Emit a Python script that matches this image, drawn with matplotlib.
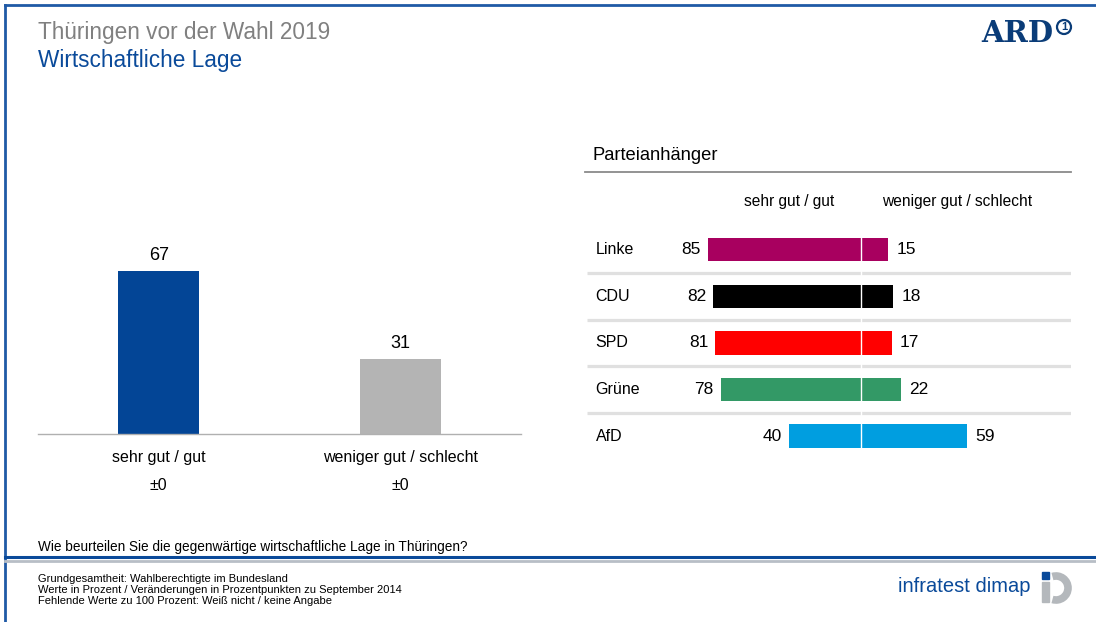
import matplotlib.pyplot as plt
from matplotlib.lines import Line2D
from matplotlib.patches import Ellipse, Arc, Rectangle

plt.rcParams['font.family'] = ['Liberation Sans', 'DejaVu Sans']

# data
total_cats = ['sehr gut / gut', 'weniger gut / schlecht']
total_vals = [67, 31]
total_change = ['±0', '±0']
total_colors = ['#034596', '#b4b4b4']

parties = ['Linke', 'CDU', 'SPD', 'Grüne', 'AfD']
good = [85, 82, 81, 78, 40]
bad = [15, 18, 17, 22, 59]
party_colors = ['#a8005f', '#000000', '#ff0000', '#339966', '#009ee0']

W, H = 1096, 622
fig = plt.figure(figsize=(W / 100, H / 100), dpi=100)


def px(x0, y0, x1, y1):
    # pixel box -> figure fraction rect
    return [x0 / W, 1 - y1 / H, (x1 - x0) / W, (y1 - y0) / H]


blue = '#1f5aa6'
# frame
fig.add_artist(Line2D([5 / W, 1], [1 - 5 / H, 1 - 5 / H], color=blue, lw=2))
fig.add_artist(Line2D([5 / W, 5 / W], [0, 1 - 5 / H], color=blue, lw=2))
fig.add_artist(Line2D([5 / W, 1], [1 - 557 / H, 1 - 557 / H], color='#0a4a9a', lw=2.2))
fig.add_artist(Line2D([5 / W, 1], [1 - 561 / H, 1 - 561 / H], color='#b8bec6', lw=2))

# titles
fig.text(38 / W, 1 - 32 / H, 'Thüringen vor der Wahl 2019', fontsize=16.3,
         color='#808080', va='center')
fig.text(38 / W, 1 - 60 / H, 'Wirtschaftliche Lage', fontsize=16.3,
         color='#0a4a9a', va='center')

# ARD logo
fig.text(1053 / W, 1 - 34 / H, 'ARD', fontsize=21, fontweight='bold',
         family='DejaVu Serif', color='#0a3c78', ha='right', va='center')
fig.add_artist(Ellipse((1064 / W, 1 - 27 / H), 14 / W, 14 / H, transform=fig.transFigure,
                       fill=False, ec='#0a3c78', lw=1.6))
fig.text(1064 / W, 1 - 27 / H, '1', fontsize=8, fontweight='bold',
         color='#0a3c78', ha='center', va='center')

# left chart
ax = fig.add_axes(px(38, 191, 521, 434))
ax.bar(range(len(total_vals)), total_vals, width=0.336, color=total_colors)
ax.set_xlim(-0.5, 1.5)
ax.set_ylim(0, 100)
for s in ['top', 'right', 'left']:
    ax.spines[s].set_visible(False)
ax.spines['bottom'].set_color('#b0b0b0')
ax.spines['bottom'].set_linewidth(1)
ax.set_xticks([])
ax.set_yticks([])
for i, v in enumerate(total_vals):
    ax.annotate(str(v), (i, v), xytext=(0, 5), textcoords='offset points',
                ha='center', va='bottom', fontsize=13)
    ax.text(i, -9.5, total_cats[i], ha='center', va='center', fontsize=11.5)
    ax.text(i, -21, total_change[i], ha='center', va='center', fontsize=11.5)

# right chart
ax2 = fig.add_axes(px(585, 172, 1071, 460))
y = range(len(parties))
ax2.barh(y, [-g for g in good], height=0.495, color=party_colors)
ax2.barh(y, bad, height=0.495, color=party_colors)
ax2.set_xlim(-276 / 1.8, 210 / 1.8)
ax2.set_ylim(4.516, -1.677)
for s in ['right', 'left', 'bottom']:
    ax2.spines[s].set_visible(False)
ax2.spines['top'].set_color('#8a8a8a')
ax2.spines['top'].set_linewidth(1.3)
ax2.set_xticks([])
ax2.set_yticks([])
for i in range(len(parties) - 1):
    ax2.plot([-152, 116.7], [i + 0.5, i + 0.5], color='#e0e0e0', lw=2.3,
             solid_capstyle='butt')
ax2.vlines(0, -0.5, len(parties) - 0.5, color='white', lw=1, zorder=5)
tr = ax2.get_yaxis_transform()
for i, p in enumerate(parties):
    ax2.text(0.022, i, p, transform=tr, ha='left', va='center', fontsize=11.5)
    ax2.annotate(str(good[i]), (-good[i], i), xytext=(-5, 0),
                 textcoords='offset points', ha='right', va='center', fontsize=12.5)
    ax2.annotate(str(bad[i]), (bad[i], i), xytext=(6, 0),
                 textcoords='offset points', ha='left', va='center', fontsize=12.5)
ax2.text(-40, -1.05, 'sehr gut / gut', ha='center', va='center', fontsize=11.2)
ax2.text(53.5, -1.05, 'weniger gut / schlecht', ha='center', va='center', fontsize=11.2)
fig.text(593 / W, 1 - 156 / H, 'Parteianhänger', fontsize=13.2, va='center')

# footer
fig.text(38 / W, 1 - 547 / H, 'Wie beurteilen Sie die gegenwärtige wirtschaftliche Lage in Thüringen?',
         fontsize=9.8, va='center')
notes = ['Grundgesamtheit: Wahlberechtigte im Bundesland',
         'Werte in Prozent / Veränderungen in Prozentpunkten zu September 2014',
         'Fehlende Werte zu 100 Prozent: Weiß nicht / keine Angabe']
for k, n in enumerate(notes):
    fig.text(38 / W, 1 - (579 + 11 * k) / H, n, fontsize=8, va='center')

fig.text(1030 / W, 1 - 586 / H, 'infratest dimap', fontsize=14.5,
         color='#0a4a9a', ha='right', va='center')
fig.add_artist(Arc((1056 / W, 1 - 588 / H), 24 / W, 24 / H, theta1=-100, theta2=100,
                   transform=fig.transFigure, color='#b4b8bc', lw=5.5))
fig.add_artist(Rectangle((1042 / W, 1 - 602 / H), 7 / W, 20 / H,
                         transform=fig.transFigure, color='#b4b8bc'))
fig.add_artist(Rectangle((1042 / W, 1 - 579 / H), 7 / W, 7 / H,
                         transform=fig.transFigure, color='#0a4a9a'))

fig.savefig('out.png', dpi=100)
